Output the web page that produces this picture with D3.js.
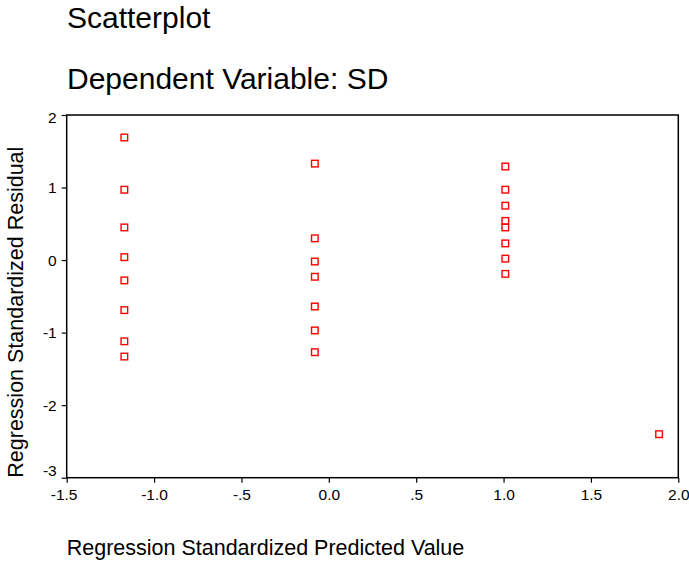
<!DOCTYPE html>
<html>
<head>
<meta charset="utf-8">
<script src="https://cdn.jsdelivr.net/npm/d3@7"></script>
<style>
  body { margin: 0; background: #fff; }
  text { font-family: Arial, "Liberation Sans", sans-serif; fill: #000; }
</style>
</head>
<body>
<svg id="chart"></svg>
<script>
'use strict';

const WIDTH = 689;
const HEIGHT = 561;

// predicted value (x) and residual (y)
const predicted = [
    -1.17, -1.17, -1.17, -1.17, -1.17, -1.17, -1.17, -1.17,
    -0.08, -0.08, -0.08, -0.08, -0.08, -0.08, -0.08,
    1.01, 1.01, 1.01, 1.01, 1.01, 1.01, 1.01, 1.01,
    1.89
];
const residual = [
    1.69, 0.97, 0.45, 0.04, -0.28, -0.69, -1.12, -1.33,
    1.33, 0.30, -0.02, -0.23, -0.64, -0.97, -1.27,
    1.29, 0.97, 0.75, 0.54, 0.45, 0.23, 0.02, -0.19,
    -2.40
];

const xTicks = [-1.5, -1.0, -0.5, 0.0, 0.5, 1.0, 1.5, 2.0];
const xTickLabels = ['-1.5', '-1.0', '-.5', '0.0', '.5', '1.0', '1.5', '2.0'];
const yTicks = [2, 1, 0, -1, -2, -3];
const yTickLabels = ['2', '1', '0', '-1', '-2', '-3'];

const margin = {top: 115, right: 10.7, bottom: 83.3, left: 66.7};
const w = WIDTH - margin.left - margin.right;
const h = HEIGHT - margin.top - margin.bottom;

const svg = d3.select('#chart').attr('width', WIDTH).attr('height', HEIGHT);

// titles
svg.append('text').attr('x', 67).attr('y', 28).style('font-size', '30px').text('Scatterplot');
svg.append('text').attr('x', 67).attr('y', 89).style('font-size', '30px').text('Dependent Variable: SD');

const g = svg.append('g').attr('transform', 'translate(' + margin.left + ',' + margin.top + ')');

const x = d3.scaleLinear().domain([-1.5, 2.0]).range([0, w]);
const y = d3.scaleLinear().domain([-3, 2]).range([h, 0]);

// frame
g.append('rect')
    .attr('x', 0).attr('y', 0).attr('width', w).attr('height', h)
    .attr('fill', 'none').attr('stroke', '#000').attr('stroke-width', 1.5);

const xAxis = g.append('g')
    .attr('transform', 'translate(0,' + h + ')')
    .call(d3.axisBottom(x).tickValues(xTicks).tickSize(5).tickPadding(6)
        .tickFormat(function(d, i) { return xTickLabels[i]; }));
const yAxis = g.append('g')
    .call(d3.axisLeft(y).tickValues(yTicks).tickSize(5).tickPadding(5)
        .tickFormat(function(d, i) { return yTickLabels[i]; }));

[xAxis, yAxis].forEach(function(a) {
    a.select('.domain').remove();
    a.selectAll('line').attr('stroke', '#000').attr('stroke-width', 1.2);
    a.selectAll('text').style('font-size', '15.5px').attr('fill', '#000')
        .style('font-family', 'Arial, "Liberation Sans", sans-serif');
});

// end labels sit a little inside, like the original
yAxis.selectAll('.tick text').filter(function(d) { return d == -3; }).attr('dy', '-0.15em');
yAxis.selectAll('.tick text').filter(function(d) { return d == 2; }).attr('dy', '0.5em');
xAxis.selectAll('.tick text').filter(function(d) { return d == -1.5; }).attr('dx', '-0.2em');

// axis titles, starting at the origin corner
svg.append('text')
    .attr('x', margin.left).attr('y', 555)
    .style('font-size', '21.5px')
    .text('Regression Standardized Predicted Value');
svg.append('text')
    .attr('transform', 'translate(23,' + (margin.top + h) + ') rotate(-90)')
    .style('font-size', '21.5px')
    .text('Regression Standardized Residual');

// points
g.selectAll('rect.pt')
    .data(predicted)
    .enter()
    .append('rect')
    .attr('class', 'pt')
    .attr('x', function(d) { return x(d) - 3.3; })
    .attr('y', function(d, i) { return y(residual[i]) - 3.3; })
    .attr('width', 6.6)
    .attr('height', 6.6)
    .attr('fill', 'none')
    .attr('stroke', '#ff0000')
    .attr('stroke-width', 1.4);
</script>
</body>
</html>
